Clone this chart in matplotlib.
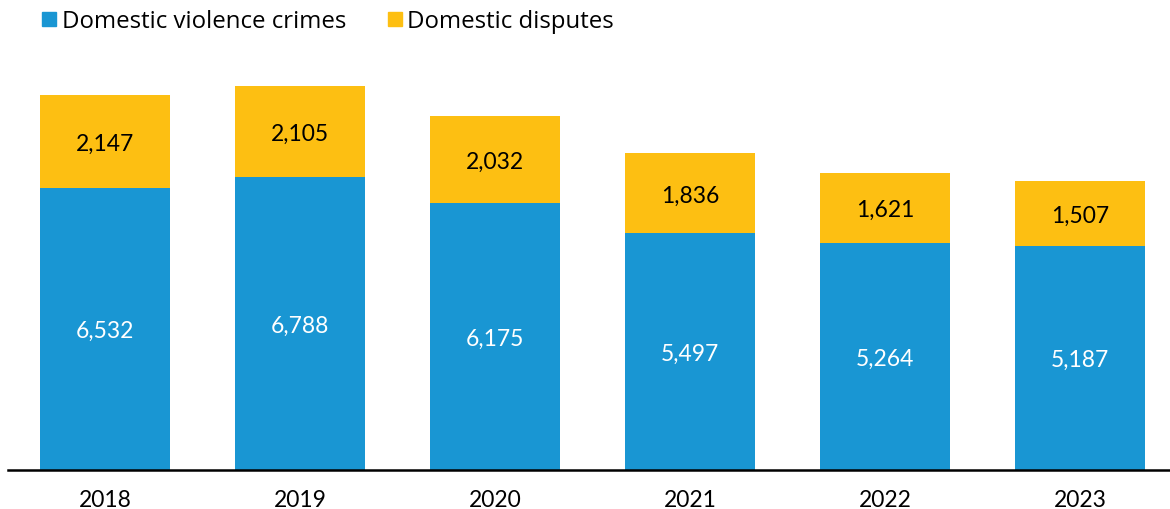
import matplotlib
matplotlib.use("Agg")
import matplotlib.pyplot as plt
from matplotlib.patches import Rectangle

years = ["2018", "2019", "2020", "2021", "2022", "2023"]
violence_crimes = [6532, 6788, 6175, 5497, 5264, 5187]
disputes = [2147, 2105, 2032, 1836, 1621, 1507]

BLUE = "#1996D3"
YELLOW = "#FDBF12"

W, H = 1170, 510
fig = plt.figure(figsize=(W / 100, H / 100), dpi=100)

# axes spans from the baseline (y=470 px) up to y=50 px
ax_left, ax_right = 8 / W, 1170 / W
ax_bottom, ax_top = (H - 470.5) / H, (H - 50) / H
ax = fig.add_axes([ax_left, ax_bottom, ax_right - ax_left, ax_top - ax_bottom])

x = list(range(len(years)))
width = 0.667
ax.bar(x, violence_crimes, width=width, color=BLUE, edgecolor="none")
ax.bar(x, disputes, width=width, bottom=violence_crimes, color=YELLOW, edgecolor="none")

label_font = dict(family="Lato", fontsize=16.5)
for xi, v, d in zip(x, violence_crimes, disputes):
    ax.text(xi, v / 2, f"{v:,}", ha="center", va="center_baseline", color="white", **label_font)
    ax.text(xi, v + d / 2, f"{d:,}", ha="center", va="center_baseline", color="black", **label_font)

ax.set_xlim(-97 / 195, (1170 - 105) / 195)
ax.set_ylim(0, 420.5 / 0.0431)

for s in ["top", "right", "left"]:
    ax.spines[s].set_visible(False)
ax.spines["bottom"].set_linewidth(1.8)
ax.spines["bottom"].set_color("black")
ax.set_yticks([])
ax.set_xticks(x)
ax.set_xticklabels(years, fontfamily="Lato", fontsize=16.5)
ax.tick_params(axis="x", length=0, pad=14)

# legend drawn as squares with labels across the top
legend_items = [(42, 62, "Domestic violence crimes", BLUE),
                (388, 407, "Domestic disputes", YELLOW)]
for sx, tx, label, color in legend_items:
    fig.patches.append(Rectangle((sx / W, (H - 27) / H), 14 / W, 14 / H,
                                 transform=fig.transFigure, color=color))
    fig.text(tx / W, (H - 28) / H, label, ha="left", va="baseline",
             fontfamily="Open Sans", fontsize=17.3, color="black")

fig.savefig("out.png", dpi=100)
